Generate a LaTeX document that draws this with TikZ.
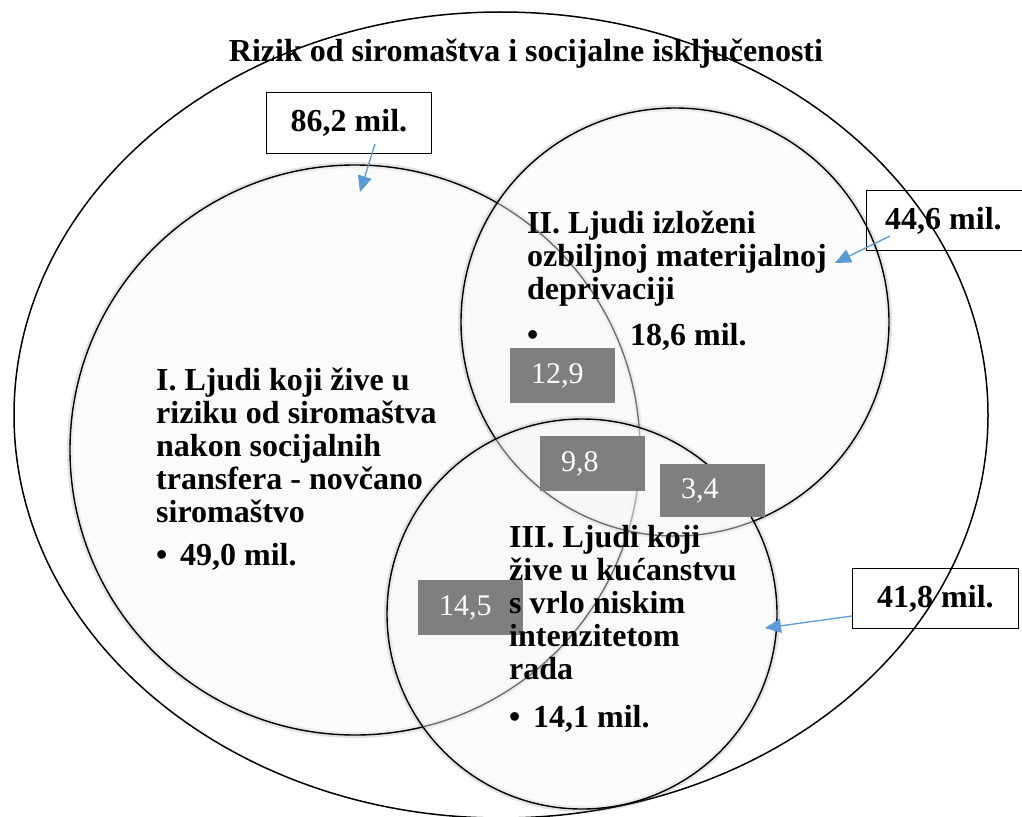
\documentclass[tikz,border=0pt]{standalone}
\usepackage{fontspec}
\setmainfont{Liberation Serif}
\usetikzlibrary{arrows.meta,shapes.geometric}
\definecolor{arrowblue}{HTML}{5B9BD5}
\definecolor{numgray}{HTML}{7F7F7F}
\definecolor{vennfill}{HTML}{F7F7F7}
\begin{document}
\begin{tikzpicture}[x=1pt,y=-1pt,
  venn/.style={circle, draw=black, line width=1.4pt, fill=vennfill, fill opacity=0.45, inner sep=0pt, outer sep=0pt,
    preaction={draw=black!60, line width=6pt, draw opacity=0.18}},
  outerell/.style={ellipse, draw=black, line width=1.5pt, inner sep=0pt, outer sep=0pt},
  bodytext/.style={anchor=base west, align=left, inner sep=0pt, font=\bfseries\fontsize{32}{32.8}\selectfont},
  numbox/.style={fill=numgray, text=white, anchor=north west, align=left, inner ysep=0pt, inner xsep=21pt,
    text width=63pt, minimum width=105pt, minimum height=55pt, font=\fontsize{30}{30}\selectfont},
  valbox/.style={draw=black, line width=0.9pt, anchor=north west, inner sep=0pt,
    font=\bfseries\fontsize{32}{32}\selectfont},
  bluearrow/.style={draw=arrowblue, line width=1.3pt, -{Triangle[length=16pt,width=14pt]}}
]
\useasboundingbox (0,0) rectangle (1022,816);

% outer ellipse
\node[outerell, minimum width=974pt, minimum height=806pt] (outer) at (501,415) {};

% circles
\node[venn, minimum size=570pt] (c1) at (355,450) {};
\node[venn, minimum size=428pt] (c2) at (675,322) {};
\node[venn, minimum size=390pt] (c3) at (582,614) {};

% intersection numbers
\node[numbox] (n129) at (510,348) {12,9};
\node[numbox] (n98) at (540,436) {9,8};
\node[numbox, minimum height=53pt] (n34) at (660,464) {3,4};
\node[numbox] (n145) at (418,580) {14,5};

% title
\node[anchor=base, inner sep=0pt, font=\bfseries\fontsize{32}{32}\selectfont] (title) at (526,62)
  {Rizik od siromaštva i socijalne isključenosti};

% circle texts (anchor = baseline of the last line)
\node[bodytext] (t1) at (156,522)
  {I. Ljudi koji žive u\\riziku od siromaštva\\nakon socijalnih\\transfera - novčano\\siromaštvo};
\node[bodytext] (t1b) at (156,565) {\makebox[24pt][l]{•}49,0 mil.};

\node[bodytext] (t2) at (527,299)
  {II. Ljudi izloženi\\ozbiljnoj materijalnoj\\deprivaciji};
\node[bodytext] (t2b) at (527,345) {\makebox[103pt][l]{•}18,6 mil.};

\node[bodytext] (t3) at (509,679)
  {III. Ljudi koji\\žive u kućanstvu\\s vrlo niskim\\intenzitetom\\rada};
\node[bodytext] (t3b) at (509,727) {\makebox[24pt][l]{•}14,1 mil.};

% value boxes
\node[valbox, minimum width=165pt, minimum height=61pt] (v862) at (266,92) {86,2 mil.};
\node[valbox, minimum width=158pt, minimum height=60pt] (v446) at (866,190) {\hspace*{-4pt}44,6 mil.};
\node[valbox, minimum width=166pt, minimum height=60pt] (v418) at (852,568) {41,8 mil.};

% arrows
\coordinate (a1s) at (375,144);
\coordinate (a1e) at (360,192);
\coordinate (a2s) at (890,236);
\coordinate (a2e) at (835,263);
\coordinate (a3s) at (852,616);
\coordinate (a3e) at (765,628);
\draw[bluearrow] (a1s) -- (a1e);
\draw[bluearrow] (a2s) -- (a2e);
\draw[bluearrow] (a3s) -- (a3e);
\end{tikzpicture}
\end{document}
